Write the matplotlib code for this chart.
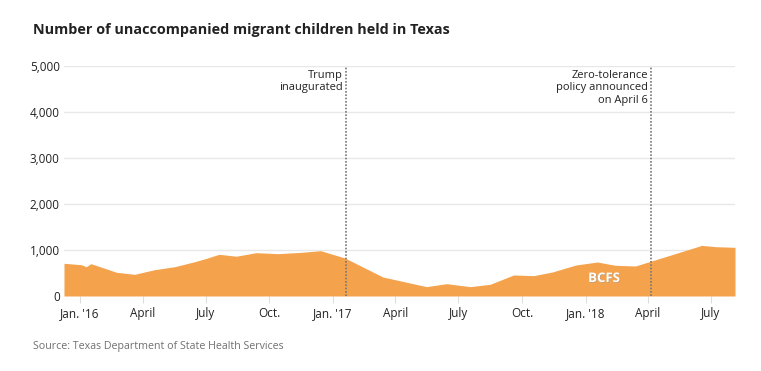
import matplotlib
matplotlib.use("Agg")
import matplotlib.pyplot as plt
import matplotlib.dates as mdates
import matplotlib.patheffects as pe
import pandas as pd

dates = ["2015-12-09", "2016-01-03", "2016-01-10", "2016-01-17", "2016-02-23",
         "2016-03-20", "2016-04-18", "2016-05-17", "2016-06-15", "2016-07-02",
         "2016-07-20", "2016-08-14", "2016-09-12", "2016-10-13", "2016-11-16",
         "2016-12-14", "2017-01-18", "2017-03-14", "2017-05-16", "2017-06-14",
         "2017-07-18", "2017-08-16", "2017-09-19", "2017-10-18", "2017-11-14",
         "2017-12-18", "2018-01-18", "2018-02-13", "2018-03-14", "2018-06-18",
         "2018-07-08", "2018-08-05"]
values = [711, 680, 637, 702, 515, 471, 572, 637, 746, 819,
          906, 865, 942, 920, 949, 985, 826, 413, 203, 268,
          203, 254, 457, 442, 522, 674, 739, 667, 652, 1100,
          1072, 1058]

tick_dates = ["2016-01-01", "2016-04-01", "2016-07-01", "2016-10-01", "2017-01-01",
              "2017-04-01", "2017-07-01", "2017-10-01", "2018-01-01", "2018-04-01",
              "2018-07-01"]
tick_labels = ["Jan. '16", "April", "July", "Oct.", "Jan. '17", "April", "July",
               "Oct.", "Jan. '18", "April", "July"]
y_ticks = [0, 1000, 2000, 3000, 4000, 5000]
y_labels = ["0", "1,000", "2,000", "3,000", "4,000", "5,000"]

events = ["2017-01-20", "2018-04-06"]
event_labels = ["Trump\ninaugurated", "Zero-tolerance\npolicy announced\non April 6"]

plt.rcParams['font.family'] = ['Open Sans', 'DejaVu Sans']

x = pd.to_datetime(dates)
fig = plt.figure(figsize=(7.61, 3.71), dpi=100)
ax = fig.add_axes([64/761, 1-296/371, (735-64)/761, (296-66)/371])

ax.fill_between(x, 0, values, color='#f4a24b', lw=0, zorder=2)
ax.set_xlim(x[0], x[-1])
ax.set_ylim(0, 5000)

ax.set_yticks(y_ticks)
ax.set_yticklabels(y_labels)
ax.set_xticks(pd.to_datetime(tick_dates))
ax.set_xticklabels(tick_labels)
ax.grid(axis='y', color='#e8e8e8', lw=1, zorder=0)
for s in ax.spines.values():
    s.set_visible(False)
ax.tick_params(axis='y', length=0, pad=3, labelsize=8.5, labelcolor='#222222')
ax.tick_params(axis='x', length=5, color='#dddddd', pad=3, labelsize=8.5, labelcolor='#222222')

for d, lab in zip(events, event_labels):
    xd = pd.to_datetime(d)
    ax.axvline(xd, color='#777777', lw=1.2, ls=(0, (1, 1)), zorder=3)
    ax.text(xd - pd.Timedelta(days=5), 4920, lab, ha='right', va='top',
            fontsize=8.0, color='#222222', linespacing=1.2)

ax.text(pd.to_datetime("2018-01-28"), 380, "BCFS", ha='center', va='center',
        fontsize=9.5, fontweight='bold', color='white', zorder=4,
        path_effects=[pe.withSimplePatchShadow(offset=(0.5, -0.5), shadow_rgbFace='#999999', alpha=0.6)])

fig.text(33/761, 1-30/371, "Number of unaccompanied migrant children held in Texas",
         fontsize=10.4, fontweight='bold', color='#222222', ha='left', va='center')
fig.text(33/761, 1-346/371, "Source: Texas Department of State Health Services",
         fontsize=7.7, color='#707070', ha='left', va='center')

fig.savefig("out.png", dpi=100)
